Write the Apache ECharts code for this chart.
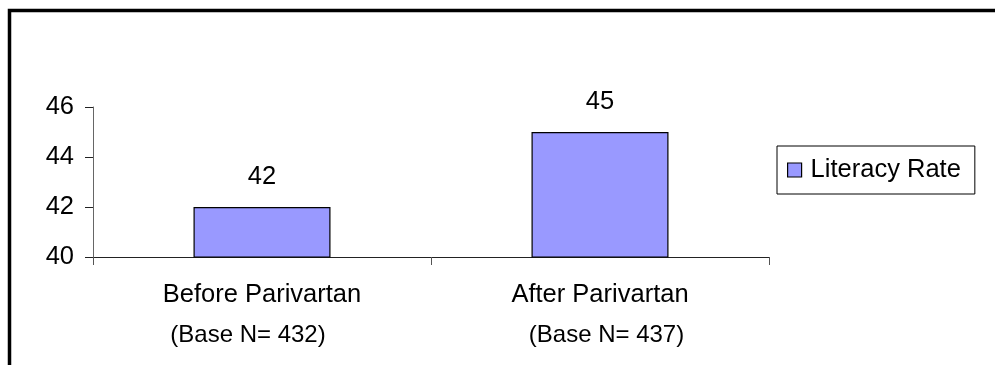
<!DOCTYPE html>
<html>
<head>
<meta charset="utf-8">
<script src="https://cdn.jsdelivr.net/npm/echarts@6/dist/echarts.min.js"></script>
<style>
html,body{margin:0;padding:0;background:#fff;}
#chart{width:995px;height:365px;}
</style>
</head>
<body>
<div id="chart"></div>
<script>
const categories = ['Before Parivartan', 'After Parivartan'];
const baseLabels = ['(Base N= 432)', '(Base N= 437)'];
const seriesName = 'Literacy Rate';
const literacyRate = [42, 45];
const yMin = 40, yMax = 46, yInterval = 2;

const FONT = '"Liberation Sans", Arial, sans-serif';
const chart = echarts.init(document.getElementById('chart'), null, {renderer: 'canvas'});
chart.setOption({
  animation: false,
  backgroundColor: '#fff',
  textStyle: {fontFamily: FONT},
  graphic: [{
    type: 'rect',
    shape: {x: 9.5, y: 10.5, width: 1200, height: 1000},
    style: {fill: 'none', stroke: '#000', lineWidth: 3.5},
    silent: true
  }],
  grid: {left: 93, right: 226, top: 107, bottom: 108},
  legend: {
    left: 777, top: 146,
    orient: 'vertical',
    data: [seriesName],
    itemWidth: 14, itemHeight: 14,
    padding: [11, 14, 11, 10],
    borderColor: '#000', borderWidth: 1,
    icon: 'rect',
    itemStyle: {borderColor: '#000', borderWidth: 1.2},
    textStyle: {fontSize: 25.5, color: '#000', fontFamily: FONT, padding: [0, 0, 0, 4], lineHeight: 24}
  },
  xAxis: {
    type: 'category',
    data: categories,
    axisLine: {lineStyle: {color: '#222', width: 1}},
    axisTick: {show: true, length: 8, lineStyle: {color: '#555'}},
    axisLabel: {
      margin: 18,
      color: '#000',
      formatter: function (v, i) { return '{a|' + v + '}\n{b' + i + '|' + baseLabels[i] + '}'; },
      rich: {
        a: {fontSize: 25.5, lineHeight: 40, color: '#000', fontFamily: FONT},
        b0: {fontSize: 24, lineHeight: 40, color: '#000', fontFamily: FONT, padding: [0, 28, 0, 0]},
        b1: {fontSize: 24, lineHeight: 40, color: '#000', fontFamily: FONT, padding: [0, 0, 0, 13]}
      }
    }
  },
  yAxis: {
    type: 'value',
    min: yMin, max: yMax, interval: yInterval,
    splitLine: {show: false},
    axisLine: {show: true, lineStyle: {color: '#666', width: 1}},
    axisTick: {show: true, length: 8, lineStyle: {color: '#222'}},
    axisLabel: {fontSize: 25.5, color: '#000', margin: 19, fontFamily: FONT}
  },
  series: [{
    name: seriesName,
    type: 'bar',
    data: literacyRate,
    barWidth: 137,
    itemStyle: {color: '#9999FF', borderColor: '#000', borderWidth: 1.2},
    label: {show: true, position: 'top', distance: 17, fontSize: 25.5, color: '#000', fontFamily: FONT}
  }]
});
</script>
</body>
</html>
